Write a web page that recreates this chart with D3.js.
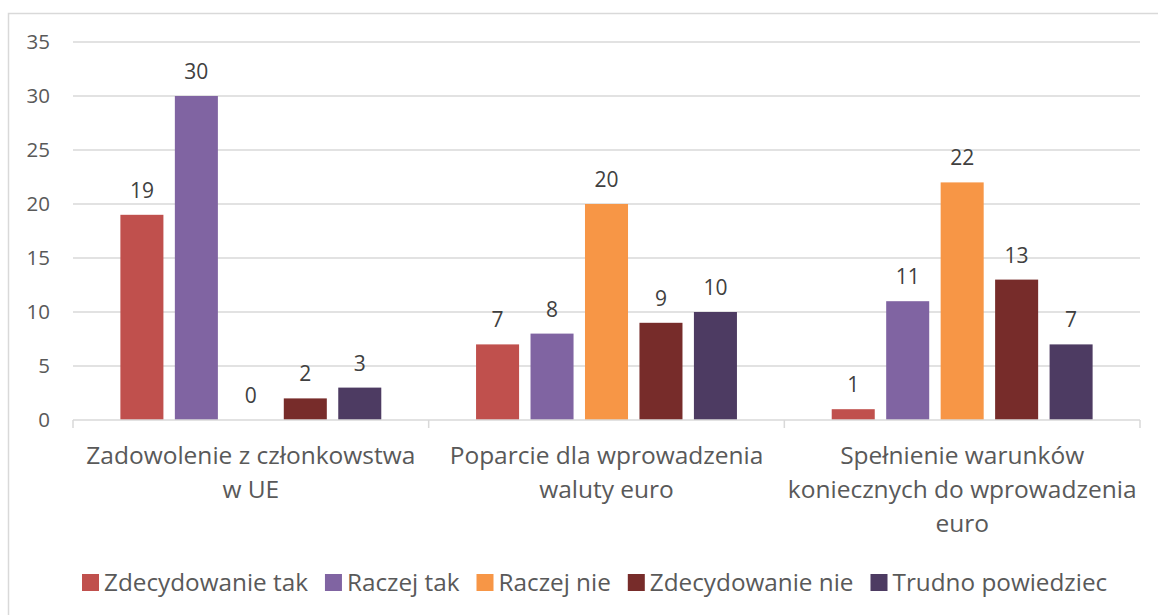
<!DOCTYPE html>
<html>
<head>
<meta charset="utf-8">
<script src="https://cdn.jsdelivr.net/npm/d3@7"></script>
<style>
  body { margin: 0; background: #fff; }
  svg text { font-family: "Open Sans", sans-serif; fill: #595959; }
</style>
</head>
<body>
<svg id="chart" width="1158" height="615"></svg>
<script>
// Categories (already wrapped the way the original shows them).
const categories = [
  ["Zadowolenie z członkowstwa", "w UE"],
  ["Poparcie dla wprowadzenia", "waluty euro"],
  ["Spełnienie warunków", "koniecznych do wprowadzenia", "euro"]
];

const seriesNames = ["Zdecydowanie tak", "Raczej tak", "Raczej nie", "Zdecydowanie nie", "Trudno powiedziec"];
const seriesColors = ["#C0504D", "#8064A2", "#F79646", "#772C2A", "#4D3B62"];

// values[series][category]
const zdecydowanieTak = [19, 7, 1];
const raczejTak = [30, 8, 11];
const raczejNie = [0, 20, 22];
const zdecydowanieNie = [2, 9, 13];
const trudnoPowiedziec = [3, 10, 7];

const yTicks = [0, 5, 10, 15, 20, 25, 30, 35];


let values = [zdecydowanieTak, raczejTak, raczejNie, zdecydowanieNie, trudnoPowiedziec];

let svg = d3.select("#chart");

// outer chart border
svg.append("rect")
  .attr("x", 8.5).attr("y", 13.5)
  .attr("width", 1170).attr("height", 640)
  .attr("fill", "none")
  .attr("stroke", "#D9D9D9")
  .attr("stroke-width", 1.5);

let plot = {left: 73, right: 1140, top: 42, bottom: 420};

let x0 = d3.scaleBand()
  .domain(d3.range(categories.length))
  .range([plot.left, plot.right]);

let x1 = d3.scaleBand()
  .domain(d3.range(seriesNames.length))
  .range([0, x0.bandwidth()])
  .paddingInner(0.21)
  .paddingOuter(0.87);

let y = d3.scaleLinear()
  .domain([0, 35])
  .range([plot.bottom, plot.top]);


// gridlines
svg.append("g")
  .selectAll("line")
  .data(yTicks.filter(t => t > 0))
  .enter()
  .append("line")
    .attr("x1", plot.left).attr("x2", plot.right)
    .attr("y1", d => y(d)).attr("y2", d => y(d))
    .attr("stroke", "#D9D9D9")
    .attr("stroke-width", 1.5);

// y tick labels
svg.append("g")
  .selectAll("text")
  .data(yTicks)
  .enter()
  .append("text")
    .attr("x", 50)
    .attr("y", d => y(d))
    .attr("dy", "0.36em")
    .attr("text-anchor", "end")
    .style("font-size", "20.5px")
    .text(d => d);


// bars
let groups = svg.append("g")
  .selectAll("g")
  .data(categories)
  .enter()
  .append("g")
    .attr("transform", (d, i) => `translate(${x0(i)},0)`);

groups.selectAll("rect")
  .data((d, ci) => values.map((s, si) => ({si: si, v: s[ci]})))
  .enter()
  .append("rect")
    .attr("x", d => x1(d.si))
    .attr("width", x1.bandwidth())
    .attr("y", d => y(d.v))
    .attr("height", d => y(0) - y(d.v))
    .attr("fill", d => seriesColors[d.si]);

// data labels
groups.selectAll("text")
  .data((d, ci) => values.map((s, si) => ({si: si, v: s[ci]})))
  .enter()
  .append("text")
    .attr("x", d => x1(d.si) + x1.bandwidth() / 2)
    .attr("y", d => y(d.v) - 17)
    .attr("text-anchor", "middle")
    .style("font-size", "21px")
    .style("fill", "#404040")
    .text(d => d.v);


// category axis
let xaxis = svg.append("g");
xaxis.append("line")
  .attr("x1", plot.left).attr("x2", plot.right)
  .attr("y1", y(0)).attr("y2", y(0))
  .attr("stroke", "#D9D9D9")
  .attr("stroke-width", 1.5);

xaxis.selectAll("line.tick")
  .data(d3.range(categories.length + 1))
  .enter()
  .append("line")
    .attr("class", "tick")
    .attr("x1", i => plot.left + i * x0.step())
    .attr("x2", i => plot.left + i * x0.step())
    .attr("y1", y(0)).attr("y2", y(0) + 8)
    .attr("stroke", "#D9D9D9")
    .attr("stroke-width", 1.5);

xaxis.selectAll("text")
  .data(categories)
  .enter()
  .append("text")
    .attr("text-anchor", "middle")
    .attr("x", (d, i) => x0(i) + x0.bandwidth() / 2)
    .attr("y", 464)
    .style("font-size", "24.5px")
    .selectAll("tspan")
    .data(d => d)
    .enter()
    .append("tspan")
      .attr("x", function(){ return this.parentNode.getAttribute("x"); })
      .attr("dy", (d, i) => i == 0 ? 0 : 34)
      .text(d => d);


// legend, laid out from left to right after measuring each label
let legend = svg.append("g");
let lx = 82;
seriesNames.forEach((name, i) => {
  let item = legend.append("g").attr("transform", `translate(${lx},574)`);
  item.append("rect")
    .attr("width", 17).attr("height", 17)
    .attr("fill", seriesColors[i]);
  let t = item.append("text")
    .attr("x", 22)
    .attr("y", 17)
    .style("font-size", "24.3px")
    .text(name);
  lx += 22 + t.node().getComputedTextLength() + 17;
});

</script>
</body>
</html>
